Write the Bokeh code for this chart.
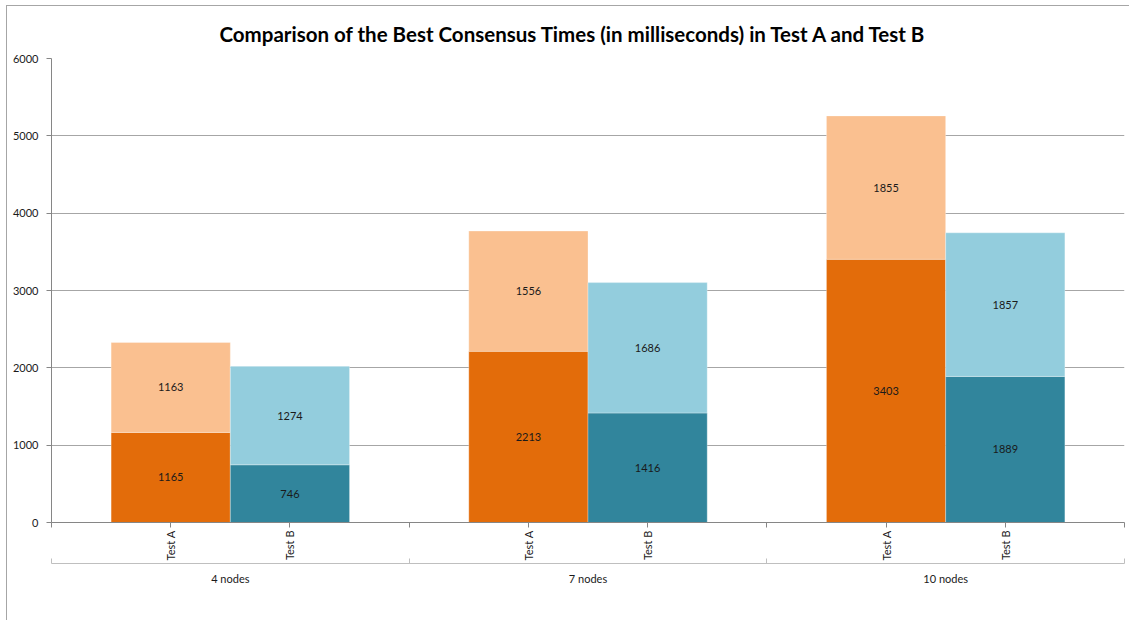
import math
from bokeh.plotting import figure
from bokeh.models import (Range1d, LinearAxis, FixedTicker,
                          ColumnDataSource, Legend, LegendItem)
from bokeh.core.properties import value
from bokeh.embed import file_html
from bokeh.resources import INLINE

# Consensus times (ms), one value per cluster size
nodes = ["4 nodes", "7 nodes", "10 nodes"]
tests = ["Test A", "Test B"]
turquois_a = [1165, 2213, 3403]
mvc_a = [1163, 1556, 1855]
turquois_b = [746, 1416, 1889]
mvc_b = [1274, 1686, 1857]
series_names = ["Turquois A", "MVC A", "Turquois B", "MVC B"]
y_ticks = [0, 1000, 2000, 3000, 4000, 5000, 6000]

colors = ["#E36C0A", "#FAC090", "#31859C", "#93CDDD"]
FONT = "Lato"
AXIS_GREY = "#868686"
TEXT = "#1a1a1a"

# slot layout: each node group holds one slot per test plus a one-slot gap
gap = 1.0
span = len(tests) + gap
sub_centers = [g * span + i + 0.5 for g in range(len(nodes)) for i in range(len(tests))]
sub_labels = [t for _ in nodes for t in tests]
grp_centers = [g * span + len(tests) / 2 for g in range(len(nodes))]
boundaries = [g * span - gap / 2 for g in range(len(nodes) + 1)]
xa = [g * span + 0.5 for g in range(len(nodes))]
xb = [g * span + 1.5 for g in range(len(nodes))]

p = figure(x_range=Range1d(boundaries[0], boundaries[-1]), y_range=Range1d(0, 6000),
           frame_width=1073, frame_height=464,
           min_border_left=44, min_border_right=6, min_border_top=51, min_border_bottom=0,
           x_axis_location=None, output_backend="svg", toolbar_location=None,
           title="Comparison of the Best Consensus Times (in milliseconds) in Test A and Test B")
p.margin = (5, 0, 0, 6)
p.styles = {"border-left": "1px solid #a6a6a6", "border-top": "1px solid #a6a6a6"}
p.outline_line_color = None
p.background_fill_color = "white"

p.title.align = "left"
p.title.offset = 168
p.title.standoff = 26
p.title.text_font = FONT
p.title.text_font_size = "20.5px"
p.title.text_font_style = "bold"
p.title.text_color = "black"

src_a = ColumnDataSource(dict(x=xa, ta=turquois_a, ma=mvc_a))
src_b = ColumnDataSource(dict(x=xb, tb=turquois_b, mb=mvc_b))

ra = p.vbar_stack(["ta", "ma"], x="x", width=1.0, source=src_a,
                  fill_color=colors[:2], line_color="white", line_alpha=0.5, line_width=0.6)
rb = p.vbar_stack(["tb", "mb"], x="x", width=1.0, source=src_b,
                  fill_color=colors[2:], line_color="white", line_alpha=0.5, line_width=0.6)

# value labels centred in each segment
lx, ly, lt = [], [], []
for x_a, x_b, a1, a2, b1, b2 in zip(xa, xb, turquois_a, mvc_a, turquois_b, mvc_b):
    for x, lo, hi in ((x_a, a1, a2), (x_b, b1, b2)):
        lx += [x, x]
        ly += [lo / 2, lo + hi / 2]
        lt += [str(lo), str(hi)]
p.text(x=lx, y=ly, text=lt, text_align="center", text_baseline="middle",
       text_font=value(FONT), text_font_size="11px", text_color=TEXT)

# y axis and grid
p.yaxis.ticker = FixedTicker(ticks=y_ticks)
p.yaxis.axis_line_color = AXIS_GREY
p.yaxis.major_tick_line_color = AXIS_GREY
p.yaxis.major_tick_out = 5
p.yaxis.major_tick_in = 0
p.yaxis.minor_tick_line_color = None
p.yaxis.major_label_text_font = FONT
p.yaxis.major_label_text_font_size = "11px"
p.yaxis.major_label_text_color = TEXT
p.yaxis.major_label_standoff = 8
p.ygrid.ticker = FixedTicker(ticks=y_ticks)
p.ygrid.grid_line_color = "#a6a6a6"
p.xgrid.grid_line_color = None

# two-row category axis: tests, then node groups
ax1 = LinearAxis(ticker=FixedTicker(ticks=sub_centers, minor_ticks=boundaries),
                 major_label_overrides={c: t for c, t in zip(sub_centers, sub_labels)},
                 major_label_orientation=math.pi / 2,
                 axis_line_color=AXIS_GREY,
                 major_tick_line_color=AXIS_GREY, major_tick_out=5, major_tick_in=0,
                 minor_tick_line_color=AXIS_GREY, minor_tick_out=5, minor_tick_in=0,
                 major_label_text_font=FONT, major_label_text_font_size="11px",
                 major_label_text_color=TEXT, major_label_standoff=3)
ax2 = LinearAxis(ticker=FixedTicker(ticks=grp_centers, minor_ticks=boundaries),
                 major_label_overrides={c: n for c, n in zip(grp_centers, nodes)},
                 axis_line_color="#bfbfbf",
                 major_tick_line_color=None, major_tick_out=0, major_tick_in=0,
                 minor_tick_line_color="#bfbfbf", minor_tick_out=0, minor_tick_in=5,
                 major_label_text_font=FONT, major_label_text_font_size="11px",
                 major_label_text_color=TEXT, major_label_standoff=8)
p.add_layout(ax1, "below")
p.add_layout(ax2, "below")

# compact legend row under the axes
legend = Legend(items=[LegendItem(label=s, renderers=[r])
                       for s, r in zip(series_names, [ra[0], ra[1], rb[0], rb[1]])],
                orientation="horizontal", location=(372, 0),
                glyph_width=10, glyph_height=10, label_height=12, label_standoff=4,
                spacing=16, label_text_font=FONT, label_text_font_size="12px",
                label_text_color=TEXT, label_text_baseline="middle",
                border_line_color=None, background_fill_alpha=0, padding=2, margin=0)
p.add_layout(legend, "below")

open("out.html", "w").write(file_html(p, INLINE))
